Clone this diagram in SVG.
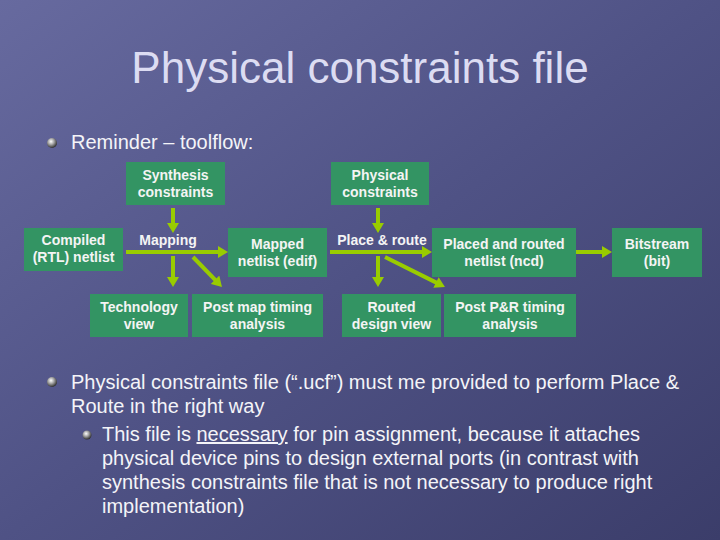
<svg xmlns="http://www.w3.org/2000/svg" width="720" height="540" viewBox="0 0 720 540">
  <defs>
    <linearGradient id="bg" x1="0" y1="0" x2="1" y2="1">
      <stop offset="0" stop-color="#676a9f"/>
      <stop offset="0.5" stop-color="#4f5285"/>
      <stop offset="1" stop-color="#3b3d6a"/>
    </linearGradient>
    <radialGradient id="ball" cx="0.4" cy="0.35" r="0.65">
      <stop offset="0" stop-color="#ffffff"/>
      <stop offset="0.45" stop-color="#a8a8a8"/>
      <stop offset="1" stop-color="#303030"/>
    </radialGradient>
    <marker id="ah" viewBox="0 0 10 12" refX="2" refY="6" markerWidth="10" markerHeight="12" markerUnits="userSpaceOnUse" orient="auto">
      <path d="M0,0 L10,6 L0,12 z" fill="#99cc00"/>
    </marker>
    <style>
      .box { fill: #339463; }
      .bt { font-family: "Liberation Sans", Arial, sans-serif; font-weight: bold; font-size: 14px; fill: #f4f4f4; text-anchor: middle; }
      .lbl { font-family: "Liberation Sans", Arial, sans-serif; font-weight: bold; font-size: 14px; fill: #f4f4f4; text-anchor: middle; }
      .con line { stroke: #99cc00; stroke-width: 4; marker-end: url(#ah); }
      .body { font-family: "Liberation Sans", Arial, sans-serif; font-size: 20px; fill: #f4f4f8; }
      .title { font-family: "Liberation Sans", Arial, sans-serif; font-size: 44px; fill: #dcdcf2; text-anchor: middle; }
    </style>
  </defs>
  <rect width="720" height="540" fill="url(#bg)"/>

  <text class="title" x="360" y="83">Physical constraints file</text>

  <g id="bullet1">
    <circle cx="52" cy="143" r="5" fill="url(#ball)"/>
    <text class="body" x="71" y="149">Reminder – toolflow:</text>
  </g>

  <g id="connectors" class="con">
    <line x1="173" y1="208" x2="173" y2="225"/>
    <line x1="378" y1="208" x2="378" y2="225"/>
    <line x1="126" y1="252" x2="220" y2="252"/>
    <line x1="330" y1="252" x2="424" y2="252"/>
    <line x1="576" y1="252" x2="604" y2="252"/>
    <line x1="173" y1="256" x2="173" y2="279"/>
    <line x1="378" y1="256" x2="378" y2="279"/>
    <line x1="193" y1="257" x2="216.4" y2="281.2"/>
    <line x1="385" y1="257" x2="437.8" y2="283.4"/>
  </g>

  <g id="synthesis">
    <rect class="box" x="126" y="162" width="99" height="43"/>
    <text class="bt" x="175.5" y="180">Synthesis</text>
    <text class="bt" x="175.5" y="197">constraints</text>
  </g>
  <g id="physical">
    <rect class="box" x="331" y="162" width="98" height="43"/>
    <text class="bt" x="380" y="180">Physical</text>
    <text class="bt" x="380" y="197">constraints</text>
  </g>
  <g id="compiled">
    <rect class="box" x="24" y="228" width="99" height="43"/>
    <text class="bt" x="73.5" y="245">Compiled</text>
    <text class="bt" x="73.5" y="262">(RTL) netlist</text>
  </g>
  <g id="mapping">
    <text class="lbl" x="168" y="245">Mapping</text>
  </g>
  <g id="mapped">
    <rect class="box" x="228" y="228" width="99" height="49"/>
    <text class="bt" x="277.5" y="249">Mapped</text>
    <text class="bt" x="277.5" y="266">netlist (edif)</text>
  </g>
  <g id="placeroute">
    <text class="lbl" x="382" y="245">Place &amp; route</text>
  </g>
  <g id="placed">
    <rect class="box" x="432" y="228" width="144" height="49"/>
    <text class="bt" x="504" y="249">Placed and routed</text>
    <text class="bt" x="504" y="266">netlist (ncd)</text>
  </g>
  <g id="bitstream">
    <rect class="box" x="612" y="228" width="90" height="49"/>
    <text class="bt" x="657" y="249">Bitstream</text>
    <text class="bt" x="657" y="266">(bit)</text>
  </g>
  <g id="technology">
    <rect class="box" x="90" y="294" width="98" height="43"/>
    <text class="bt" x="139" y="312">Technology</text>
    <text class="bt" x="139" y="329">view</text>
  </g>
  <g id="postmap">
    <rect class="box" x="192" y="294" width="131" height="43"/>
    <text class="bt" x="257.5" y="312">Post map timing</text>
    <text class="bt" x="257.5" y="329">analysis</text>
  </g>
  <g id="routed">
    <rect class="box" x="342" y="294" width="99" height="43"/>
    <text class="bt" x="391.5" y="312">Routed</text>
    <text class="bt" x="391.5" y="329">design view</text>
  </g>
  <g id="postpr">
    <rect class="box" x="444" y="294" width="132" height="43"/>
    <text class="bt" x="510" y="312">Post P&amp;R timing</text>
    <text class="bt" x="510" y="329">analysis</text>
  </g>

  <g id="bullet2">
    <circle cx="52" cy="382" r="5" fill="url(#ball)"/>
    <text class="body" x="71" y="389">Physical constraints file (“.ucf”) must me provided to perform Place &amp;</text>
    <text class="body" x="71" y="413">Route in the right way</text>
  </g>
  <g id="bullet3">
    <circle cx="87" cy="435" r="4.5" fill="url(#ball)"/>
    <text class="body" x="102" y="441">This file is <tspan text-decoration="underline">necessary</tspan> for pin assignment, because it attaches</text>
    <text class="body" x="102" y="465">physical device pins to design external ports (in contrast with</text>
    <text class="body" x="102" y="489">synthesis constraints file that is not necessary to produce right</text>
    <text class="body" x="102" y="513">implementation)</text>
  </g>
</svg>
